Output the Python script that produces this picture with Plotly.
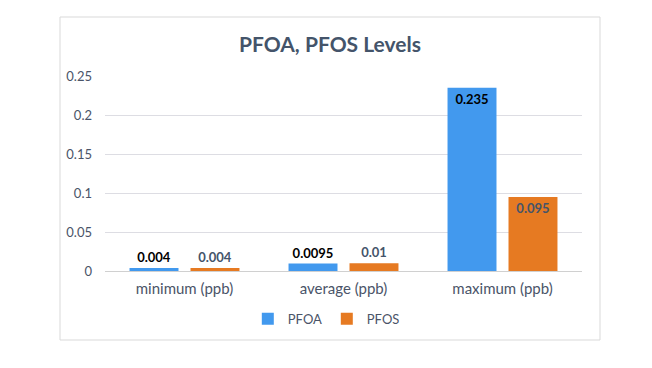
import plotly.graph_objects as go

categories = ["minimum (ppb)", "average (ppb)", "maximum (ppb)"]
pfoa = [0.004, 0.0095, 0.235]
pfos = [0.004, 0.01, 0.095]
tick_vals = [0, 0.05, 0.1, 0.15, 0.2, 0.25]
tick_text = ["0", "0.05", "0.1", "0.15", "0.2", "0.25"]

FONT = "Lato, 'Open Sans', sans-serif"
AXIS_COLOR = "#4A5468"

# page body has an 8px margin, so the figure is drawn 8px in from the window edge
W, H = 644, 360
L, R, T, B = 97, 70, 68, 97
PW, PH = W - L - R, H - T - B

fig = go.Figure()
fig.add_trace(go.Bar(
    name="PFOA", x=categories, y=pfoa,
    text=[str(v) for v in pfoa], textposition="auto",
    textfont=dict(family=FONT, size=13, color="#000000", weight="bold"),
    insidetextanchor="end", cliponaxis=False,
    marker=dict(color="#4299EE", line=dict(width=0)),
))
fig.add_trace(go.Bar(
    name="PFOS", x=categories, y=pfos,
    text=[str(v) for v in pfos], textposition="auto",
    textfont=dict(family=FONT, size=13, color="#44546A", weight="bold"),
    insidetextanchor="end", cliponaxis=False,
    marker=dict(color="#E67A22", line=dict(width=0)),
))

fig.update_layout(
    width=W, height=H,
    margin=dict(l=L, r=R, t=T, b=B),
    paper_bgcolor="white", plot_bgcolor="white",
    font=dict(family=FONT, size=12, color=AXIS_COLOR),
    barmode="group", bargap=0.233, bargroupgap=0.197,
    title=dict(text="<b>PFOA, PFOS Levels</b>", x=322/W, xref="container", xanchor="center",
               y=1-37/H, yref="container", yanchor="middle",
               font=dict(family=FONT, size=21, color="#44546A")),
    showlegend=True,
    legend=dict(orientation="h", x=0.465, xanchor="center", y=-0.245, yanchor="middle",
                font=dict(family=FONT, size=13, color=AXIS_COLOR), itemwidth=30,
                entrywidth=34, entrywidthmode="pixels",
                traceorder="normal"),
    xaxis=dict(showgrid=False, showline=True, linecolor="#D0D0D0", linewidth=1,
               ticks="", ticklabelstandoff=4,
               tickfont=dict(family=FONT, size=15, color=AXIS_COLOR)),
    yaxis=dict(range=[0, 0.25], tickvals=tick_vals, ticktext=tick_text,
               showgrid=True, gridcolor="#DDDDE3", gridwidth=1, zeroline=False,
               showline=False, ticks="", ticklabelstandoff=12,
               tickfont=dict(family=FONT, size=13, color=AXIS_COLOR)),
    shapes=[dict(type="rect", xref="paper", yref="paper",
                 x0=(52-L)/PW, x1=(592-L)/PW, y0=(T+PH-332)/PH, y1=(T+PH-9)/PH,
                 line=dict(color="#D9D9D9", width=1), fillcolor="rgba(0,0,0,0)", layer="below")],
)

fig.write_html("out.html")
